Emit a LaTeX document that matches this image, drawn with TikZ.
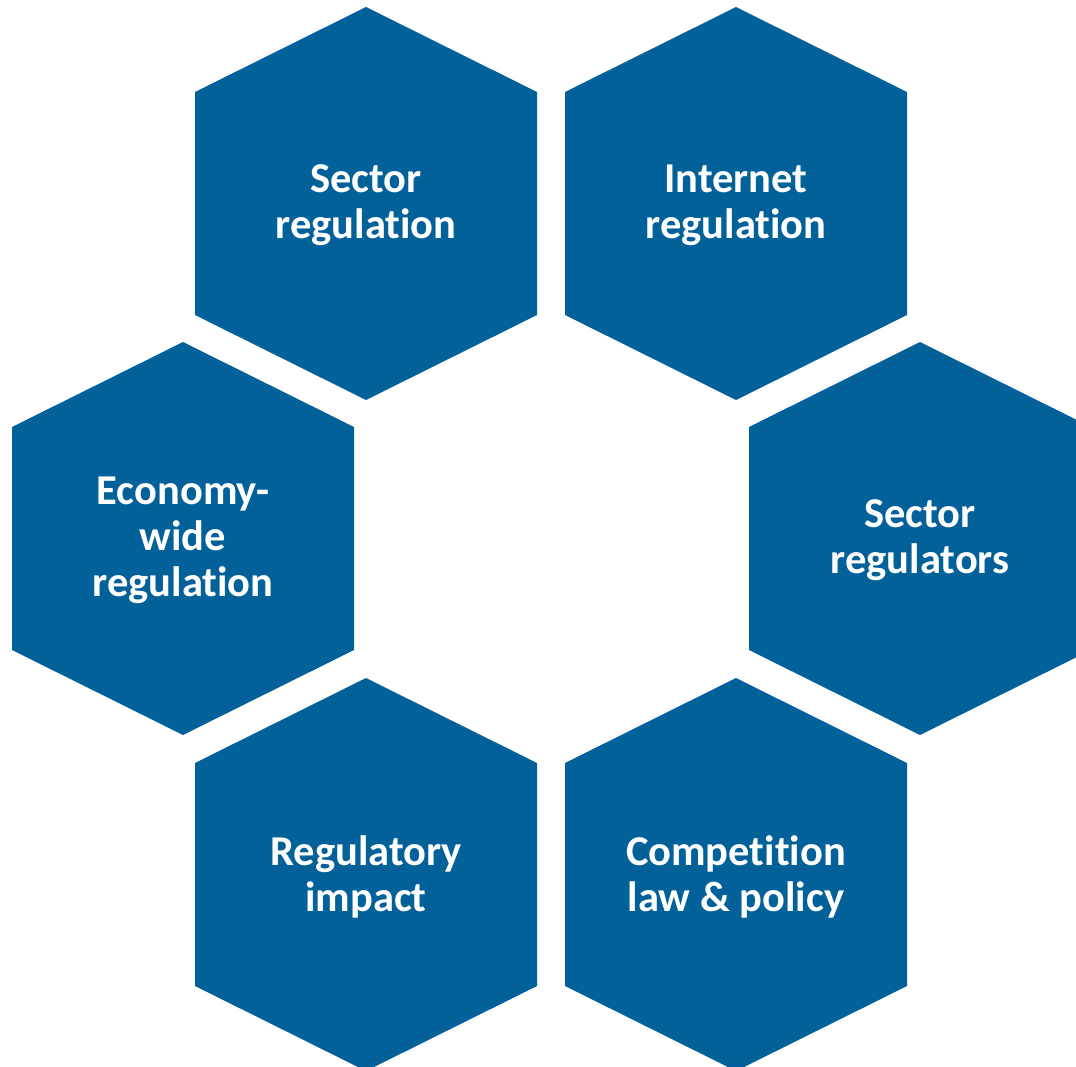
\documentclass[tikz,border=0pt]{standalone}
\usepackage{fontspec}
\setmainfont{Carlito}[RawFeature={-liga;-clig;-calt;-dlig}]
\definecolor{hexblue}{HTML}{03619A}
\tikzset{
  hexlabel/.style={text=white, align=center, font=\bfseries\fontsize{42.5}{46}\selectfont, inner sep=0pt, yshift=-2pt},
}
\newcommand{\hexat}[2]{%
  \fill[hexblue] (#1,#2) ++(0,-196.5) -- ++(171,85) -- ++(0,223) -- ++(-171,85) -- ++(-171,-85) -- ++(0,-223) -- cycle;%
}
\begin{document}
\begin{tikzpicture}[x=1pt,y=-1pt]
\useasboundingbox (0,0) rectangle (1076,1067);
\clip (0,0) rectangle (1076,1067);
\hexat{366}{203.5}
\hexat{736}{203.5}
\hexat{183}{538.5}
\hexat{920}{538.5}
\hexat{366}{874.5}
\hexat{736}{874.5}
\node[hexlabel] (t1) at (366,203.5) {Sector\\regulation};
\node[hexlabel] (t2) at (736,203.5) {Internet\\regulation};
\node[hexlabel] (t3) at (183,538.5) {Economy-\\wide\\regulation};
\node[hexlabel] (t4) at (920,538.5) {Sector\\regulators};
\node[hexlabel] (t5) at (366,874.5) {Regulatory\\impact};
\node[hexlabel] (t6) at (736,874.5) {Competition\\law \& policy};
\end{tikzpicture}
\end{document}
